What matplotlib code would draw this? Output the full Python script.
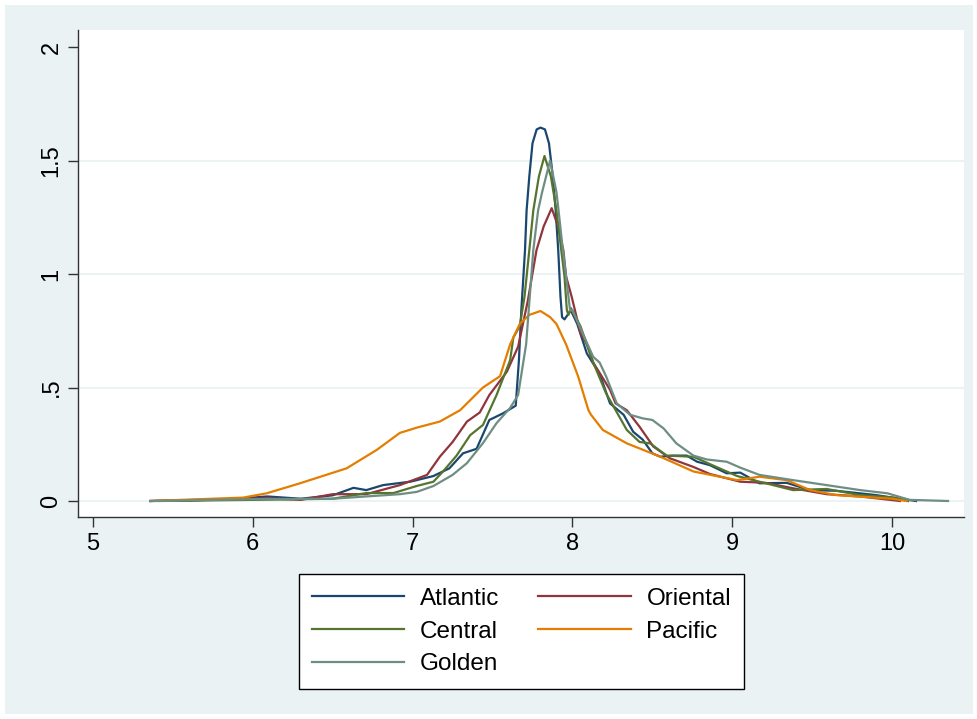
import matplotlib
matplotlib.use("Agg")
import matplotlib.pyplot as plt
from matplotlib.patches import Rectangle

plt.rcParams['font.family'] = ['Liberation Sans', 'DejaVu Sans']

series_names = ["Atlantic", "Oriental", "Central", "Pacific", "Golden"]
series_colors = ["#1a476f", "#90353b", "#55752f", "#e37e00", "#6e8e84"]

atlantic_x = [5.36, 5.6, 5.9, 6.09, 6.3, 6.5, 6.63, 6.71, 6.815, 6.985, 7.13, 7.23, 7.315, 7.40, 7.48, 7.565,
              7.645, 7.665, 7.68, 7.703, 7.713, 7.73, 7.75, 7.776, 7.80, 7.828, 7.853, 7.877, 7.895, 7.911, 7.925,
              7.935, 7.95, 7.99, 8.03, 8.09,
              8.17, 8.235, 8.32, 8.38, 8.44, 8.50, 8.55, 8.63, 8.715, 8.78, 8.86, 8.965, 9.05, 9.17, 9.34, 9.487,
              9.65, 9.90, 10.0, 10.15]
atlantic_y = [0.0, 0.002, 0.01, 0.02, 0.01, 0.025, 0.058, 0.048, 0.07, 0.085, 0.11, 0.144, 0.21, 0.23, 0.357, 0.386,
              0.42, 0.62, 0.84, 1.105, 1.28, 1.43, 1.576, 1.637, 1.645, 1.637, 1.576, 1.43, 1.28, 1.105, 0.9,
              0.81, 0.80, 0.84, 0.78, 0.65,
              0.56, 0.43, 0.38, 0.305, 0.27, 0.21, 0.195, 0.20, 0.20, 0.173, 0.158, 0.122, 0.125, 0.078, 0.08, 0.048,
              0.045, 0.026, 0.015, 0.0]

oriental_x = [5.36, 5.94, 6.09, 6.3, 6.5, 6.71, 6.92, 7.09, 7.17, 7.25, 7.34, 7.42, 7.48, 7.59, 7.66, 7.72, 7.775,
              7.82, 7.87, 7.91, 7.943, 7.96, 7.995, 8.05, 8.09, 8.13, 8.235, 8.27, 8.34, 8.42, 8.506, 8.61, 8.757,
              8.86, 9.05, 9.21, 9.38, 9.59, 9.80, 10.05]
oriental_y = [0.0, 0.01, 0.012, 0.005, 0.03, 0.03, 0.07, 0.115, 0.195, 0.26, 0.35, 0.39, 0.467, 0.57, 0.68, 0.88, 1.105,
              1.21, 1.29, 1.21, 1.105, 0.99, 0.90, 0.74, 0.69, 0.61, 0.49, 0.43, 0.40, 0.327, 0.24, 0.188, 0.15,
              0.119, 0.085, 0.08, 0.056, 0.03, 0.02, 0.0]

central_x = [5.41, 6.0, 6.5, 6.71, 6.88, 7.025, 7.13, 7.19, 7.275, 7.36, 7.44, 7.525, 7.61, 7.63, 7.67, 7.70, 7.73,
             7.755, 7.79, 7.825, 7.865, 7.90, 7.93, 7.95, 7.965, 7.975, 7.99, 8.05, 8.13, 8.21, 8.34, 8.42, 8.485,
             8.59, 8.757, 8.90, 9.03, 9.17, 9.38, 9.59, 9.80, 10.0, 10.1]
central_y = [0.0, 0.005, 0.01, 0.035, 0.035, 0.066, 0.085, 0.13, 0.2, 0.29, 0.335, 0.467, 0.62, 0.72, 0.77, 0.9, 1.105,
             1.28, 1.43, 1.52, 1.43, 1.28, 1.105, 0.99, 0.84, 0.82, 0.85, 0.77, 0.61, 0.475, 0.313, 0.26, 0.254,
             0.20, 0.195, 0.15, 0.11, 0.085, 0.048, 0.053, 0.026, 0.016, 0.0]

pacific_x = [5.36, 5.94, 6.087, 6.295, 6.587, 6.775, 6.92, 7.025, 7.17, 7.297, 7.44, 7.547, 7.61, 7.67, 7.73, 7.80,
             7.86, 7.90, 7.96, 8.035, 8.10, 8.116, 8.19, 8.34, 8.55, 8.757, 9.03, 9.17, 9.34, 9.487, 9.65, 10.0, 10.09]
pacific_y = [0.0, 0.015, 0.034, 0.078, 0.144, 0.225, 0.30, 0.323, 0.35, 0.40, 0.50, 0.55, 0.69, 0.78, 0.82, 0.837,
             0.81, 0.78, 0.69, 0.55, 0.40, 0.38, 0.313, 0.254, 0.195, 0.13, 0.092, 0.107, 0.092, 0.048, 0.026, 0.01, 0.0]

golden_x = [5.36, 6.0, 6.5, 6.71, 6.92, 7.025, 7.13, 7.25, 7.34, 7.44, 7.525, 7.61, 7.66, 7.71, 7.755, 7.785, 7.81,
            7.86, 7.90, 7.913, 7.94, 7.96, 7.985, 8.0, 8.05, 8.13, 8.17, 8.21, 8.277, 8.36, 8.44, 8.50, 8.57, 8.65,
            8.757, 8.84, 8.965, 9.05, 9.17, 9.38, 9.59, 9.80, 9.97, 10.11, 10.35]
golden_y = [0.0, 0.008, 0.01, 0.02, 0.03, 0.04, 0.066, 0.115, 0.167, 0.255, 0.343, 0.41, 0.467, 0.69, 1.105, 1.28, 1.36,
            1.50, 1.36, 1.28, 1.105, 0.99, 0.84, 0.84, 0.76, 0.635, 0.61, 0.55, 0.43, 0.38, 0.364, 0.357, 0.32, 0.254,
            0.20, 0.183, 0.173, 0.147, 0.115, 0.092, 0.07, 0.048, 0.034, 0.005, 0.0]

x_ticks = [5, 6, 7, 8, 9, 10]
x_tick_labels = ["5", "6", "7", "8", "9", "10"]
y_ticks = [0, 0.5, 1, 1.5, 2]
y_tick_labels = ["0", ".5", "1", "1.5", "2"]

W, H = 978, 719
fig = plt.figure(figsize=(W / 100, H / 100), dpi=100, facecolor="white")
bg = "#eaf2f3"
bgrect = Rectangle((5 / W, 5 / H), (W - 10) / W, (H - 10) / H, transform=fig.transFigure,
                   facecolor=bg, edgecolor="none", zorder=-10)
fig.patches.append(bgrect)

ax = fig.add_axes([78 / W, (H - 517) / H, (964 - 78) / W, (517 - 30) / H])
ax.set_zorder(1)
ax.set_facecolor("white")

data = {
    "Atlantic": (atlantic_x, atlantic_y),
    "Oriental": (oriental_x, oriental_y),
    "Central": (central_x, central_y),
    "Pacific": (pacific_x, pacific_y),
    "Golden": (golden_x, golden_y),
}
handles = {}
for name, col in zip(series_names, series_colors):
    xs, ys = data[name]
    ln, = ax.plot(xs, ys, color=col, lw=1.6, solid_joinstyle="round", zorder=3)
    handles[name] = ln

ax.set_xlim(4.906, 10.45)
ax.set_ylim(-0.0705, 2.075)

for v in [0, 0.5, 1, 1.5]:
    ax.axhline(v, color=bg, lw=1.3, zorder=1)

ax.set_xticks(x_ticks)
ax.set_xticklabels(x_tick_labels, fontsize=17)
ax.set_yticks(y_ticks)
ax.set_yticklabels(y_tick_labels, fontsize=17, rotation=90, va="center")
ax.tick_params(axis="both", length=7.2, width=1, color="#333333", pad=4)

for s in ["top", "right"]:
    ax.spines[s].set_visible(False)
for s in ["left", "bottom"]:
    ax.spines[s].set_color("#333333")
    ax.spines[s].set_linewidth(1.0)

order = ["Atlantic", "Central", "Golden", "Oriental", "Pacific"]
leg = fig.legend([handles[n] for n in order], order, ncol=2, loc="center",
                 bbox_to_anchor=(521.5 / W, (H - 631.5) / H), fontsize=17.5,
                 frameon=True, fancybox=False, edgecolor="black", facecolor="white",
                 handlelength=3.8, handletextpad=0.65, columnspacing=1.6, labelspacing=0.45,
                 borderpad=0.55, borderaxespad=0)
leg.get_frame().set_linewidth(1.0)
leg.get_frame().set_alpha(None)
leg.set_zorder(5)

fig.savefig("out.png", dpi=100, facecolor="white")
